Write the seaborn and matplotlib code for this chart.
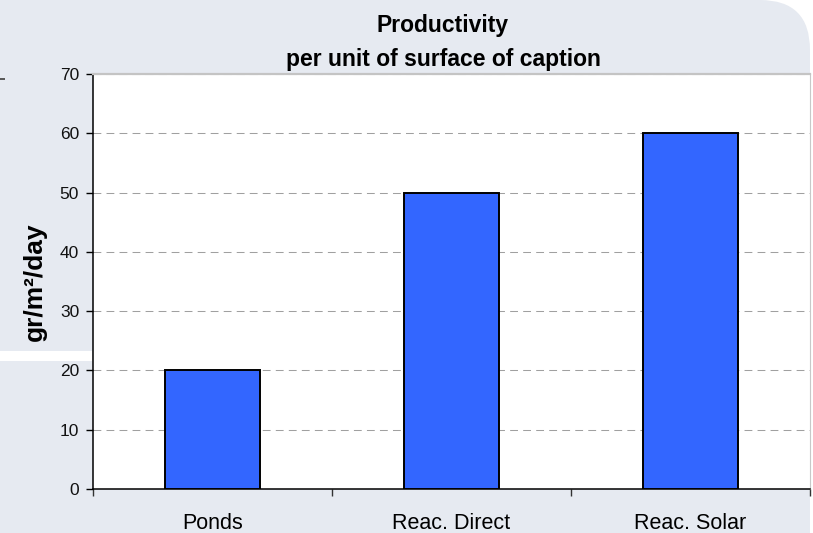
import numpy as np
import seaborn as sns
import matplotlib.pyplot as plt
from matplotlib.patches import FancyBboxPatch, Rectangle

# data
categories = ["Ponds", "Reac. Direct", "Reac. Solar"]
productivity = [20, 50, 60]
y_ticks = [0, 10, 20, 30, 40, 50, 60, 70]

plt.rcParams['font.family'] = ['Liberation Sans', 'DejaVu Sans']

W, H = 813, 533
fig = plt.figure(figsize=(W / 100, H / 100), dpi=100, facecolor="white")

# slide-like background with a rounded top-right corner
bg = FancyBboxPatch((-100, -100), 910, 633, boxstyle="round,pad=0,rounding_size=50",
                    transform=None, facecolor="#E6EAF1", edgecolor="none", zorder=-10)
fig.patches.append(bg)
fig.patches.append(Rectangle((0, H - 361), 92, 10.5, transform=None,
                             facecolor="white", edgecolor="none", zorder=-9))
fig.patches.append(Rectangle((0, H - 80), 4.5, 2.5, transform=None,
                             facecolor="#5a5a5a", edgecolor="none", zorder=-9))

ax = fig.add_axes([93 / W, (H - 489) / H, (810 - 93) / W, (489 - 74) / H])
ax.set_facecolor("white")

sns.barplot(x=categories, y=productivity, color="#3366FF", saturation=1,
            edgecolor="black", linewidth=1.4, width=0.4, ax=ax, zorder=3)

ax.set_xlim(-0.5, len(categories) - 0.5)
ax.set_ylim(0, 70)
ax.set_yticks(y_ticks)
ax.tick_params(axis="y", direction="out", length=5, width=1, color="black",
               labelsize=12.5, pad=5, labelcolor="#111111")

# category labels without ticks, boundary ticks as minor ticks
ax.tick_params(axis="x", which="major", length=0, labelsize=15.5, pad=17.5)
ax.set_xticks(np.arange(len(categories) + 1) - 0.5, minor=True)
ax.tick_params(axis="x", which="minor", direction="out", length=5, width=1, color="#333333")

ax.yaxis.grid(True, linestyle=(0, (7.5, 5)), color="#A0A0A0", linewidth=0.75)
ax.set_axisbelow(True)

for side in ["left", "bottom"]:
    ax.spines[side].set_color("black")
    ax.spines[side].set_linewidth(1.1)
ax.spines["top"].set_color("#C4C4C4")
ax.spines["top"].set_linewidth(1.6)
ax.spines["right"].set_color("#C8C8C8")
ax.spines["right"].set_linewidth(0.8)

ax.set_xlabel("")
ax.set_ylabel("")
fig.text(35 / W, 0.5 * ((H - 74) + (H - 489)) / H, "gr/m²/day", rotation=90,
         ha="center", va="center", fontsize=19, fontweight="bold")

ax.set_title("Productivity\nper unit of surface of caption", fontsize=16.5,
             fontweight="bold", linespacing=1.62, pad=6)
ax.title.set_x((443 - 93) / (810 - 93))

fig.savefig("out.png", dpi=100, facecolor=fig.get_facecolor())
